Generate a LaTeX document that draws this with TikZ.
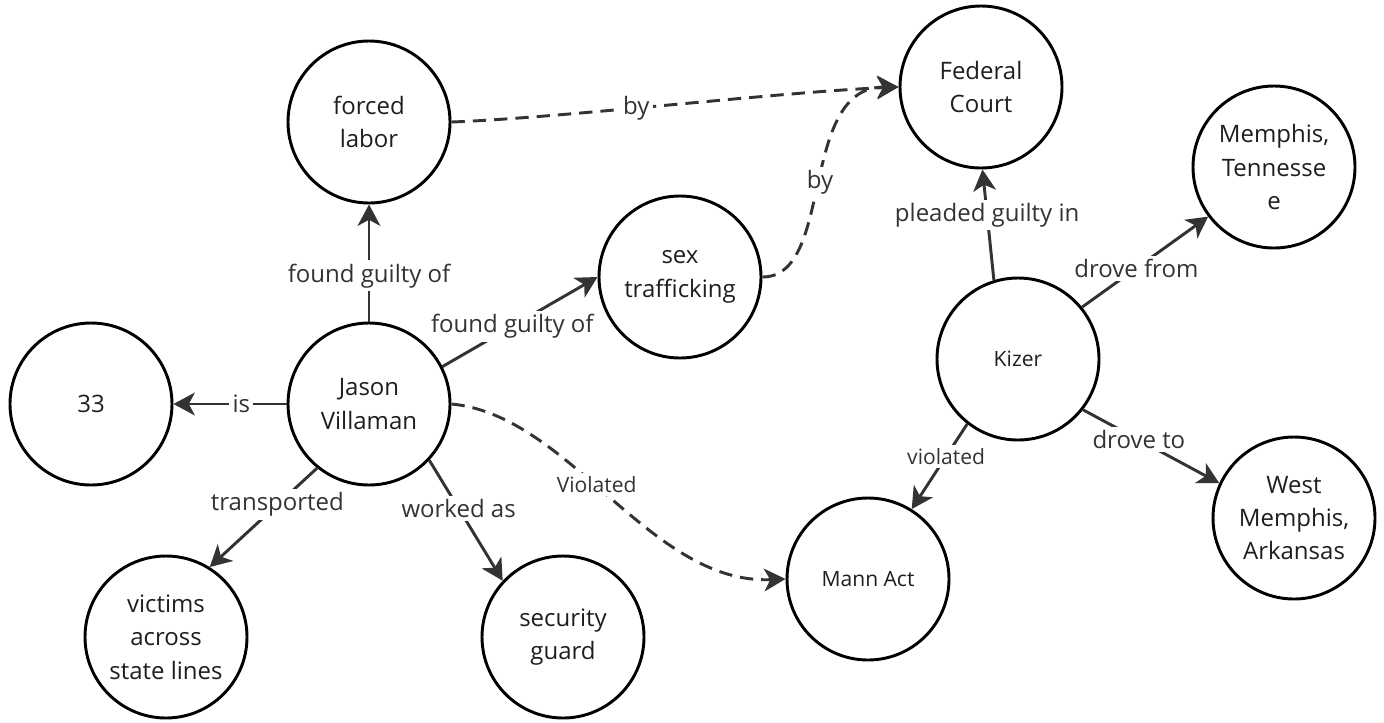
\documentclass[tikz,border=0pt]{standalone}
\usepackage{fontspec}
\setmainfont{Open Sans}
\usetikzlibrary{arrows.meta}

\begin{document}
\begin{tikzpicture}[x = 0.75pt, y = -0.75pt]
\tikzstyle{VertexStyle} = [shape = circle, minimum size = 121.5pt, inner sep = 0pt, draw, line width = 2.2pt, align = center, text = {rgb,255:red,30; green,30; blue,30}, font = \fontsize{18}{25}\selectfont]
\tikzstyle{smallVertexStyle} = [VertexStyle, font = \fontsize{15.8}{20}\selectfont]
\tikzstyle{EdgeStyle} = [line width = 2.2pt, draw = {rgb,255:red,51; green,51; blue,51}, -{Stealth[length = 16pt, width = 17pt, inset = 4.5pt]}]
\tikzstyle{dashedEdgeStyle} = [EdgeStyle, dash pattern = on 10pt off 6pt]
\tikzstyle{labeledStyle} = [fill = white, inner sep = 2.5pt, text = {rgb,255:red,51; green,51; blue,51}, font = \fontsize{18}{22}\selectfont]
\tikzstyle{smallLabeledStyle} = [labeledStyle, font = \fontsize{15.8}{19}\selectfont]
\useasboundingbox (0,0) rectangle (1384,722);
% vertices
\node[VertexStyle] (v0) at (369,122) {forced\\labor};
\node[VertexStyle] (v1) at (981,87) {Federal\\Court};
\node[VertexStyle] (v2) at (1274,167) {Memphis,\\Tennesse\\e};
\node[VertexStyle] (v3) at (680,277) {sex\\trafficking};
\node[smallVertexStyle] (v4) at (1018,359) {Kizer};
\node[VertexStyle] (v5) at (91,404) {33};
\node[VertexStyle] (v6) at (369,404) {Jason\\Villaman};
\node[VertexStyle] (v7) at (166,637) {victims\\across\\state lines};
\node[VertexStyle] (v8) at (563,637) {security\\guard};
\node[smallVertexStyle] (v9) at (868,579) {Mann Act};
\node[VertexStyle] (v10) at (1294,518) {West\\Memphis,\\Arkansas};
% edges of Jason Villaman
\draw[EdgeStyle] (v6.north) -- node[labeledStyle, pos = 0.39] {found guilty of} (v0.south);
\draw[EdgeStyle] (v6.27) -- node[labeledStyle, pos = 0.45] {found guilty of} (v3.west);
\draw[EdgeStyle] (v6.west) -- node[labeledStyle, pos = 0.4] {is} (v5.east);
\draw[EdgeStyle] (v6.231) -- node[labeledStyle, pos = 0.37] {transported} (v7.58);
\draw[EdgeStyle] (v6.-43) -- node[labeledStyle, pos = 0.4] {worked as} (v8.137);
\draw[dashedEdgeStyle] (v6.east) .. controls (570,415) and (650,585) .. node[smallLabeledStyle, pos = 0.45] {Violated} (v9.west);
% edges to Federal Court
\draw[dashedEdgeStyle] (v0.east) .. controls (560,118) and (780,92) .. node[labeledStyle, pos = 0.43] {by} (v1.west);
\draw[dashedEdgeStyle] (v3.east) .. controls (835,277) and (798,87) .. node[labeledStyle, pos = 0.5] {by} (v1.west);
% edges of Kizer
\draw[EdgeStyle] (v4.107) -- node[labeledStyle, pos = 0.59] {pleaded guilty in} (v1.-89);
\draw[EdgeStyle] (v4.39) -- node[labeledStyle, pos = 0.43] {drove from} (v2.217);
\draw[EdgeStyle] (v4.-38) -- node[labeledStyle, pos = 0.41] {drove to} (v10.155);
\draw[EdgeStyle] (v4.232) -- node[smallLabeledStyle, pos = 0.38] {violated} (v9.58);
\end{tikzpicture}
\end{document}
